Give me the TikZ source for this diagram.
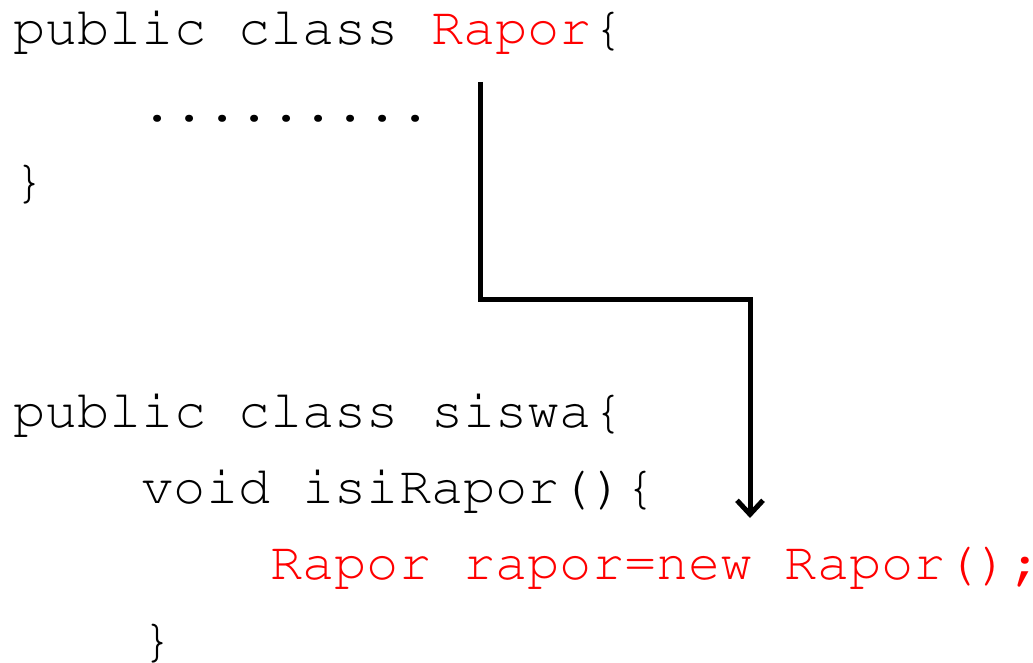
\documentclass[tikz,border=0pt]{standalone}
\usepackage[T1]{fontenc}
\usetikzlibrary{arrows.meta}
\definecolor{codered}{RGB}{255,0,0}
\begin{document}
\begin{tikzpicture}[x=1pt,y=-1pt,
  code/.style={anchor=base west, inner sep=0pt, font=\fontfamily{pcr}\fontseries{m}\fontsize{53.6}{64}\selectfont},
  redcode/.style={code, text=codered},
  conn/.style={line width=5pt, miter limit=10, -{Straight Barb[length=14pt,width=26pt]}}]
\useasboundingbox (0,0) rectangle (1033,663);
\node[code] (l1) at (13,45) {public class \textcolor{codered}{Rapor}\{};
\node[code] (l2) at (141.6,121.4) {.........};
\node[code] (l3) at (13,197.8) {\}};
\node[code] (l4) at (13,427) {public class siswa\{};
\node[code] (l5) at (141.6,503.4) {void isiRapor()\{};
\node[redcode] (l6) at (270.2,579.8) {Rapor rapor=new Rapor();};
\node[code] (l7) at (141.6,656.2) {\}};
\coordinate (s) at (480,82);
\coordinate (b1) at (480,299);
\coordinate (b2) at (750,299);
\coordinate (e) at (750,518);
\draw[conn] (s) -- (b1) -- (b2) -- (e);
\end{tikzpicture}
\end{document}
